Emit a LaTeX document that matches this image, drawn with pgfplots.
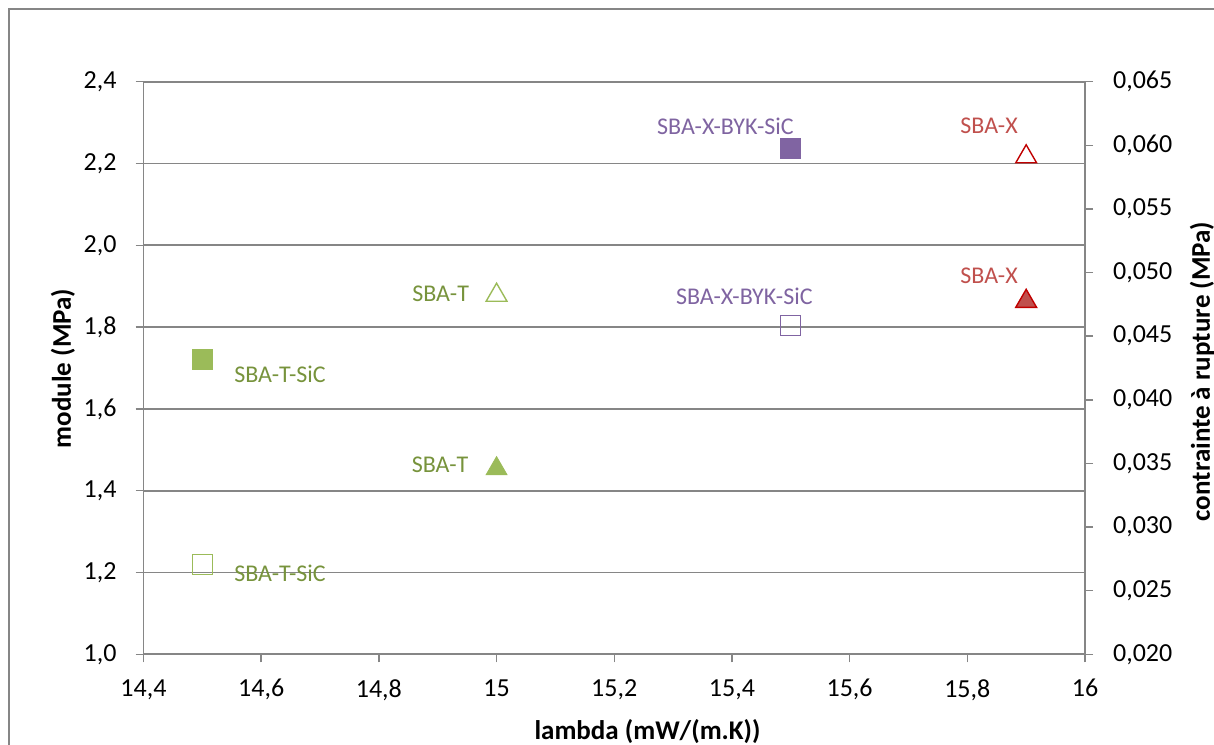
\documentclass[border=0pt]{standalone}
\usepackage{pgfplots}
\pgfplotsset{compat=1.18}
\usepackage{fontspec}
\setmainfont{Carlito}
\definecolor{gridc}{HTML}{868686}
\definecolor{gfill}{HTML}{9BBB59}
\definecolor{gtext}{HTML}{77933C}
\definecolor{pfill}{HTML}{8064A2}
\definecolor{ptext}{HTML}{7F64A1}
\definecolor{rfill}{HTML}{C0504D}
\definecolor{redge}{HTML}{C00000}
\begin{document}
\begin{tikzpicture}[x=1pt,y=1pt]
\useasboundingbox (0,0) rectangle (607,372);
\draw[gridc, line width=0.9pt] (4.5,-20) rectangle (640,367.5);
\pgfplotsset{common/.style={
  scale only axis, width=470.75pt, height=286.3pt,
  at={(71.75pt,44.85pt)}, anchor=south west,
  xmin=14.4, xmax=16,
  font=\fontsize{12}{14}\selectfont,
  tick label style={font=\fontsize{13}{15}\selectfont},
  /pgf/number format/assume math mode=true,
  /pgf/number format/use comma,
  scaled y ticks=false, scaled x ticks=false,
  tick align=outside, major tick length=4pt,
  every tick/.style={gridc, line width=0.7pt},
  axis line style={gridc, line width=0.8pt},
  clip=false}}
\begin{axis}[common,
  ymin=1, ymax=2.4,
  ytick={1,1.2,1.4,1.6,1.8,2.0,2.2,2.4},
  yticklabel style={/pgf/number format/fixed, /pgf/number format/fixed zerofill, /pgf/number format/precision=1, xshift=-6pt},
  xtick={14.4,14.6,14.8,15,15.2,15.4,15.6,15.8,16},
  xticklabel style={/pgf/number format/fixed, /pgf/number format/precision=1, yshift=-5pt},
  axis x line*=bottom, axis y line*=left,
  ymajorgrids, grid style={gridc, line width=0.9pt}]
\addplot[only marks, mark=square*, mark size=5pt, mark options={fill=gfill, draw=gfill}] coordinates {(14.5,1.720)};
\addplot[only marks, mark=triangle*, mark size=6pt, mark options={fill=gfill, draw=gfill}] coordinates {(15,1.454)};
\addplot[only marks, mark=square*, mark size=5pt, mark options={fill=pfill, draw=pfill}] coordinates {(15.5,2.236)};
\addplot[only marks, mark=triangle*, mark size=6pt, mark options={fill=rfill, draw=redge, line width=0.7pt}] coordinates {(15.9,1.863)};
\node[text=gtext] at (axis cs:14.632,1.685) {SBA-T-SiC};
\node[text=gtext] at (axis cs:14.632,1.198) {SBA-T-SiC};
\node[text=gtext] at (axis cs:14.905,1.881) {SBA-T};
\node[text=gtext] at (axis cs:14.904,1.463) {SBA-T};
\node[text=ptext] at (axis cs:15.389,2.292) {SBA-X-BYK-SiC};
\node[text=ptext] at (axis cs:15.421,1.876) {SBA-X-BYK-SiC};
\node[text=rfill] at (axis cs:15.837,2.292) {SBA-X};
\node[text=rfill] at (axis cs:15.837,1.925) {SBA-X};
\end{axis}
\begin{axis}[common,
  ymin=0.02, ymax=0.065,
  ytick={0.02,0.025,0.03,0.035,0.04,0.045,0.05,0.055,0.06,0.065},
  yticklabel style={/pgf/number format/fixed, /pgf/number format/fixed zerofill, /pgf/number format/precision=3, xshift=6.5pt},
  axis y line*=right, axis x line=none]
\addplot[only marks, mark=square, mark size=5pt, mark options={fill=white, draw=gfill, line width=0.7pt}] coordinates {(14.5,0.02708)};
\addplot[only marks, mark=triangle, mark size=6pt, mark options={fill=white, draw=gfill, line width=0.7pt}] coordinates {(15,0.04822)};
\addplot[only marks, mark=square, mark size=5pt, mark options={fill=white, draw=pfill, line width=0.7pt}] coordinates {(15.5,0.04582)};
\addplot[only marks, mark=triangle, mark size=6pt, mark options={fill=white, draw=redge, line width=0.7pt}] coordinates {(15.9,0.0591)};
\end{axis}
\node[font=\bfseries\fontsize{13.5}{15}\selectfont] at (323.75,6) {lambda (mW/(m.K))};
\node[font=\bfseries\fontsize{13.5}{15}\selectfont, rotate=90] at (31.5,187.75) {module (MPa)};
\node[font=\bfseries\fontsize{13.5}{15}\selectfont, rotate=90] at (601,186.25) {contrainte à rupture (MPa)};
\end{tikzpicture}
\end{document}
